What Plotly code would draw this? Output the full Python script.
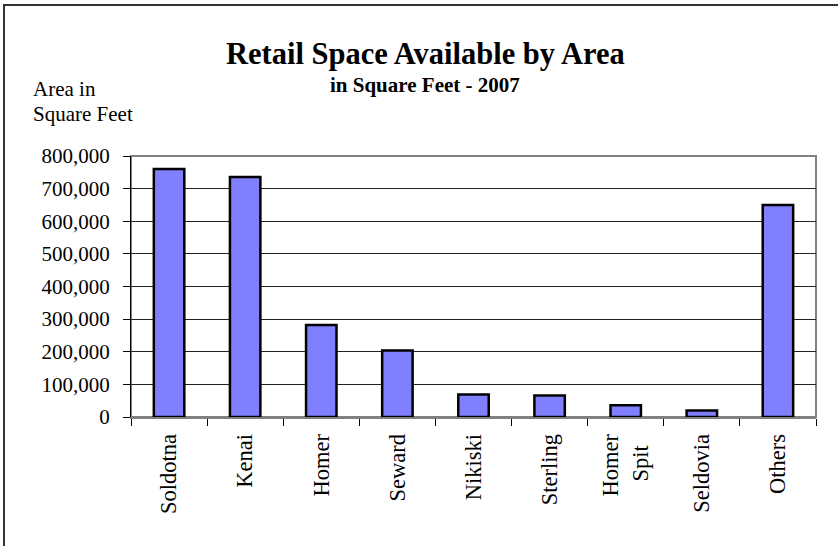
import plotly.graph_objects as go

categories = ["Soldotna", "Kenai", "Homer", "Seward", "Nikiski", "Sterling", "Homer<br>Spit&nbsp;&nbsp;", "Seldovia", "Others"]
values = [760000, 736000, 282000, 204000, 69000, 66000, 36000, 20000, 650000]
y_ticks = [0, 100000, 200000, 300000, 400000, 500000, 600000, 700000, 800000]

W, H = 838, 546
L, R, T, B = 131, 816, 156, 417
FONT = "Liberation Serif, Times New Roman, serif"

def px_x(x):
    return (x - L) / (R - L)

def px_y(y):
    return (B - y) / (B - T)

fig = go.Figure(go.Bar(
    x=categories, y=values,
    marker=dict(color="#8080FF", line=dict(color="black", width=2.5)),
))

fig.update_layout(
    width=W, height=H,
    margin=dict(l=L, r=W - R, t=T, b=H - B),
    paper_bgcolor="white", plot_bgcolor="white",
    bargap=0.6, showlegend=False,
    font=dict(family=FONT, color="black", size=20),
    xaxis=dict(
        tickangle=-90, ticks="outside", tickson="boundaries", ticklen=7,
        tickcolor="black", showline=True, linecolor="#808080", linewidth=2,
        showgrid=False, tickfont=dict(size=22.5, family=FONT), ticklabelstandoff=6,
    ),
    yaxis=dict(
        range=[0, 800000], tickvals=y_ticks, tickformat=",", ticks="outside", ticklen=7,
        tickcolor="black", showline=True, linecolor="black", linewidth=1,
        showgrid=True, gridcolor="#222222", gridwidth=1, zeroline=False,
        tickfont=dict(size=21, family=FONT), ticklabelstandoff=9,
    ),
    shapes=[
        dict(type="rect", xref="paper", yref="paper", x0=0, x1=1, y0=0, y1=1,
             line=dict(color="#808080", width=2), layer="below"),
        dict(type="rect", xref="paper", yref="paper",
             x0=px_x(4), x1=px_x(845), y0=px_y(555), y1=px_y(5),
             line=dict(color="#333333", width=2), layer="below"),
    ],
    annotations=[
        dict(text="<b>Retail Space Available by Area</b>", xref="paper", yref="paper",
             x=px_x(425), y=px_y(54), xanchor="center", yanchor="middle", showarrow=False,
             font=dict(size=30.5, family=FONT)),
        dict(text="<b>in Square Feet - 2007</b>", xref="paper", yref="paper",
             x=px_x(425), y=px_y(85), xanchor="center", yanchor="middle", showarrow=False,
             font=dict(size=21, family=FONT)),
        dict(text="Area in", xref="paper", yref="paper",
             x=px_x(31), y=px_y(89), xanchor="left", yanchor="middle", showarrow=False,
             font=dict(size=21, family=FONT)),
        dict(text="Square Feet", xref="paper", yref="paper",
             x=px_x(31), y=px_y(114), xanchor="left", yanchor="middle", showarrow=False,
             font=dict(size=21, family=FONT)),
    ],
)

fig.write_html("out.html", config={"displayModeBar": False},
               post_script="document.body.style.margin='0';")
